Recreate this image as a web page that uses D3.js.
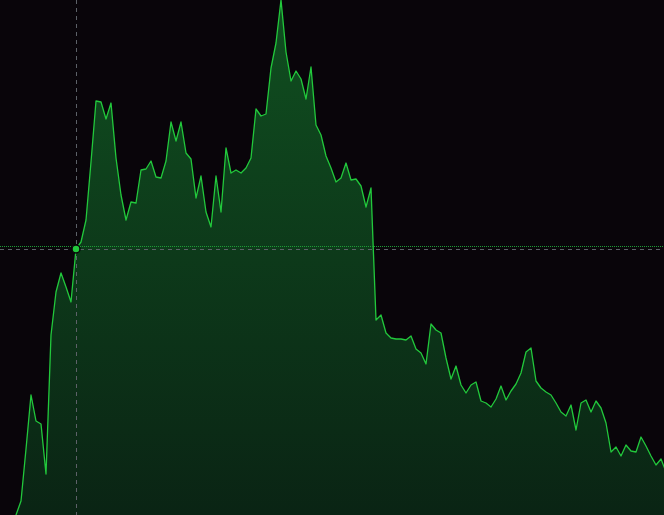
<!DOCTYPE html>
<html>
<head>
<meta charset="utf-8">
<script src="https://cdn.jsdelivr.net/npm/d3@7"></script>
<style>
  html, body { margin: 0; padding: 0; background: #09050a; overflow: hidden; }
  #chart svg { display: block; }
</style>
</head>
<body>
<div id="chart"></div>
<script>
var config = {
  "width": 664,
  "height": 515
}

// price values, one per bar
var prices = [
  15.5, 16.7, 18.3, 20.0, 21.4, 26.6, 32.0, 29.4, 29.1, 24.1,
  38.0, 42.3, 44.2, 42.8, 41.3, 46.6, 47.3, 49.5, 55.3, 61.4,
  61.3, 59.6, 61.2, 55.7, 52.0, 49.5, 51.3, 51.2, 54.5, 54.6,
  55.4, 53.8, 53.7, 55.4, 59.3, 57.4, 59.3, 56.2, 55.6, 51.7,
  53.9, 50.3, 48.8, 53.9, 50.3, 56.7, 54.2, 54.5, 54.2, 54.7,
  55.7, 60.6, 59.9, 60.1, 64.7, 67.2, 71.5, 66.3, 63.4, 64.4,
  63.6, 61.6, 64.8, 59.0, 58.0, 55.9, 54.7, 53.3, 53.7, 55.2,
  53.5, 53.6, 52.9, 50.8, 52.7, 39.5, 40.0, 38.2, 37.7, 37.6,
  37.6, 37.5, 37.9, 36.6, 36.2, 35.1, 39.1, 38.5, 38.2, 35.7,
  33.6, 34.9, 33.0, 32.2, 33.0, 33.3, 31.4, 31.2, 30.8, 31.6,
  32.9, 31.5, 32.4, 33.1, 34.2, 36.3, 36.7, 33.4, 32.7, 32.3,
  32.0, 31.2, 30.3, 29.9, 31.0, 28.5, 31.2, 31.5, 30.3, 31.4,
  30.7, 29.2, 26.3, 26.8, 25.9, 27.0, 26.4, 26.3, 27.8, 26.9,
  25.9, 25.0, 25.6, 24.3
];

// visible price range and crosshair state
var priceDomain = [20, 71.5];
var hoverIndex = 15;
var refPrice = 46.85;

window.addEventListener("DOMContentLoaded", main);

function main() {
  var w = config.width, h = config.height;

  var x = d3.scaleLinear()
    .domain([0, prices.length - 1])
    .range([1, 666]);

  var y = d3.scaleLinear()
    .domain(priceDomain)
    .range([h, 0]);

  var svg = d3.select("#chart")
    .append("svg")
    .attr("width", w)
    .attr("height", h);

  svg.append("rect")
    .attr("width", w)
    .attr("height", h)
    .style("fill", "#09050a");

  var defs = svg.append("defs");
  var grad = defs.append("linearGradient")
    .attr("id", "fillGrad")
    .attr("gradientUnits", "userSpaceOnUse")
    .attr("x1", 0).attr("y1", 0)
    .attr("x2", 0).attr("y2", h);
  grad.append("stop").attr("offset", "0%").attr("stop-color", "#104f20");
  grad.append("stop").attr("offset", "100%").attr("stop-color", "#0a2414");

  defs.append("clipPath")
    .attr("id", "clip")
    .append("rect")
    .attr("width", w)
    .attr("height", h);

  var g = svg.append("g").attr("clip-path", "url(#clip)");

  var area = d3.area()
    .x(function(d, i) { return x(i); })
    .y0(h + 60)
    .y1(function(d) { return y(d); });

  var line = d3.line()
    .x(function(d, i) { return x(i); })
    .y(function(d) { return y(d); });

  g.append("path")
    .datum(prices)
    .attr("d", area)
    .style("fill", "url(#fillGrad)");

  g.append("path")
    .datum(prices)
    .attr("d", line)
    .style("fill", "none")
    .style("stroke", "#22c83c")
    .style("stroke-width", "1.3px")
    .style("stroke-linejoin", "round");

  // reference price line (dotted green)
  var ry = Math.round(y(refPrice)) + 0.5;
  g.append("line")
    .attr("x1", 0).attr("x2", w)
    .attr("y1", ry).attr("y2", ry)
    .style("stroke", "#1d9c36")
    .style("stroke-width", "1px")
    .style("stroke-dasharray", "1,1");

  // crosshair
  var cx = Math.round(x(hoverIndex)) + 0.5;
  var cy = Math.round(y(prices[hoverIndex])) + 0.5;
  g.append("line")
    .attr("x1", cx).attr("x2", cx)
    .attr("y1", 0).attr("y2", h)
    .style("stroke", "#5d6168")
    .style("stroke-width", "1px")
    .style("stroke-dasharray", "4,4");
  g.append("line")
    .attr("x1", 0).attr("x2", w)
    .attr("y1", cy).attr("y2", cy)
    .style("stroke", "#5d6168")
    .style("stroke-width", "1px")
    .style("stroke-dasharray", "4,4");

  g.append("circle")
    .attr("cx", x(hoverIndex))
    .attr("cy", y(prices[hoverIndex]))
    .attr("r", 4)
    .style("fill", "#22c83c")
    .style("stroke", "#09050a")
    .style("stroke-width", "1.5px");
}
</script>
</body>
</html>
